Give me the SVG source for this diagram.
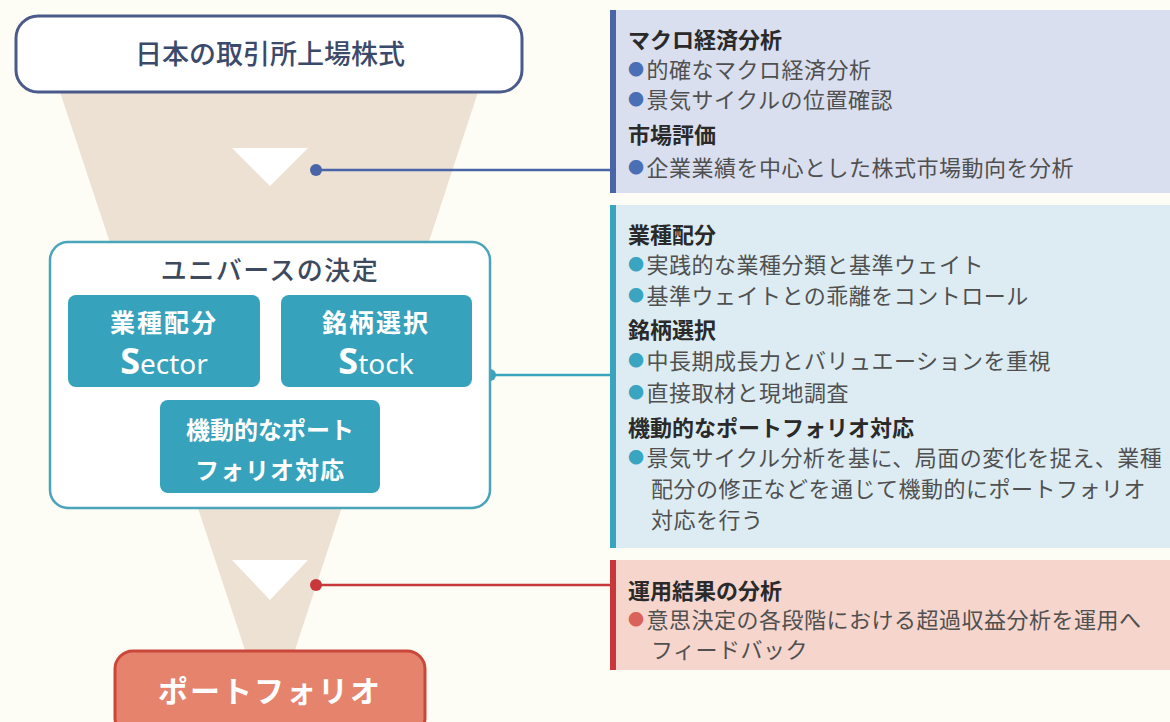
<svg xmlns="http://www.w3.org/2000/svg" width="1170" height="722" viewBox="0 0 1170 722">
<style>
.jp{font-family:"Noto Sans CJK JP","Noto Sans",sans-serif}
.h{font-size:22px;font-weight:700;fill:#2a2a2a}
.b{font-size:22px;fill:#505050;letter-spacing:0.5px}
.w{fill:#ffffff;font-weight:700;text-anchor:middle}
.d1{fill:#4a6fb5}
.d2{fill:#3aa5c0}
.d3{fill:#d9625a}
</style>
<rect x="0" y="0" width="1170" height="722" fill="#fdfcf5"/>
<g id="funnel">
<polygon points="60,92 478,92 295,650 245,650" fill="#ede1d3"/>
<polygon points="232,148 308,148 270,186" fill="#ffffff"/>
<polygon points="232,560 308,560 270,600" fill="#ffffff"/>
</g>
<g id="connectors">
<line x1="316" y1="170" x2="610" y2="170" stroke="#4a64a8" stroke-width="2.5"/>
<circle cx="316" cy="170" r="6" fill="#4a64a8"/>
<line x1="490" y1="375" x2="610" y2="375" stroke="#3aa3bd" stroke-width="2.5"/>
<circle cx="490" cy="375" r="6" fill="#3aa3bd"/>
<line x1="316" y1="585" x2="610" y2="585" stroke="#c8383a" stroke-width="2.5"/>
<circle cx="316" cy="585" r="6" fill="#c8383a"/>
</g>
<g id="top-node">
<rect x="16" y="16" width="506" height="76" rx="22" fill="#ffffff" stroke="#4a5a8a" stroke-width="3"/>
<text x="270" y="64" class="jp" font-size="27" font-weight="500" fill="#3b4a6b" text-anchor="middle">日本の取引所上場株式</text>
</g>
<g id="universe">
<rect x="50" y="242" width="440" height="266" rx="18" fill="#ffffff" stroke="#4aa5bb" stroke-width="2.5"/>
<text x="270" y="280" class="jp" font-size="26" font-weight="500" fill="#3d4a5e" text-anchor="middle" letter-spacing="1.5">ユニバースの決定</text>
</g>
<g id="sector">
<rect x="68" y="295" width="192" height="92" rx="8" fill="#36a2bc"/>
<text x="164" y="332" class="jp w" font-size="25" letter-spacing="2">業種配分</text>
<text x="164" y="374" class="w" font-family="Noto Sans, sans-serif"><tspan font-size="36" font-weight="700">S</tspan><tspan font-size="28" font-weight="400">ector</tspan></text>
</g>
<g id="stock">
<rect x="281" y="295" width="191" height="92" rx="8" fill="#36a2bc"/>
<text x="376" y="332" class="jp w" font-size="25" letter-spacing="2">銘柄選択</text>
<text x="376" y="374" class="w" font-family="Noto Sans, sans-serif"><tspan font-size="36" font-weight="700">S</tspan><tspan font-size="28" font-weight="400">tock</tspan></text>
</g>
<g id="dynamic">
<rect x="160" y="400" width="220" height="93" rx="8" fill="#36a2bc"/>
<text x="270" y="439" class="jp w" font-size="24">機動的なポート</text>
<text x="270" y="479" class="jp w" font-size="24" letter-spacing="1">フォリオ対応</text>
</g>
<g id="portfolio">
<rect x="115" y="651" width="310" height="85" rx="18" fill="#e5836d" stroke="#c9473b" stroke-width="3"/>
<text x="270" y="702" class="jp w" font-size="30" letter-spacing="2">ポートフォリオ</text>
</g>
<g id="panel-macro">
<rect x="610" y="10" width="560" height="183" fill="#d9dfee"/>
<rect x="610" y="10" width="6" height="183" fill="#4a64a8"/>
<text x="628" y="48" class="jp h">マクロ経済分析</text>
<text x="628" y="78" class="jp b"><tspan class="d1" font-size="16" dy="-3">●</tspan><tspan dx="2" dy="3">的確なマクロ経済分析</tspan></text>
<text x="628" y="108" class="jp b"><tspan class="d1" font-size="16" dy="-3">●</tspan><tspan dx="2" dy="3">景気サイクルの位置確認</tspan></text>
<text x="628" y="143" class="jp h">市場評価</text>
<text x="628" y="176" class="jp b"><tspan class="d1" font-size="16" dy="-3">●</tspan><tspan dx="2" dy="3">企業業績を中心とした株式市場動向を分析</tspan></text>
</g>
<g id="panel-stock">
<rect x="610" y="205" width="560" height="343" fill="#dcecf2"/>
<rect x="610" y="205" width="6" height="343" fill="#3aa3bd"/>
<text x="628" y="243" class="jp h">業種配分</text>
<text x="628" y="273" class="jp b"><tspan class="d2" font-size="16" dy="-3">●</tspan><tspan dx="2" dy="3">実践的な業種分類と基準ウェイト</tspan></text>
<text x="628" y="304" class="jp b"><tspan class="d2" font-size="16" dy="-3">●</tspan><tspan dx="2" dy="3">基準ウェイトとの乖離をコントロール</tspan></text>
<text x="628" y="338" class="jp h">銘柄選択</text>
<text x="628" y="369" class="jp b"><tspan class="d2" font-size="16" dy="-3">●</tspan><tspan dx="2" dy="3">中長期成長力とバリュエーションを重視</tspan></text>
<text x="628" y="401" class="jp b"><tspan class="d2" font-size="16" dy="-3">●</tspan><tspan dx="2" dy="3">直接取材と現地調査</tspan></text>
<text x="628" y="436" class="jp h">機動的なポートフォリオ対応</text>
<text x="628" y="466" class="jp b"><tspan class="d2" font-size="16" dy="-3">●</tspan><tspan dx="2" dy="3">景気サイクル分析を基に、局面の変化を捉え、業種</tspan></text>
<text x="651" y="497" class="jp b">配分の修正などを通じて機動的にポートフォリオ</text>
<text x="651" y="528" class="jp b">対応を行う</text>
</g>
<g id="panel-result">
<rect x="610" y="560" width="560" height="110" fill="#f5d5cc"/>
<rect x="610" y="560" width="6" height="110" fill="#c8383a"/>
<text x="628" y="599" class="jp h">運用結果の分析</text>
<text x="628" y="628" class="jp b"><tspan class="d3" font-size="16" dy="-3">●</tspan><tspan dx="2" dy="3">意思決定の各段階における超過収益分析を運用へ</tspan></text>
<text x="651" y="658" class="jp b">フィードバック</text>
</g>
</svg>
